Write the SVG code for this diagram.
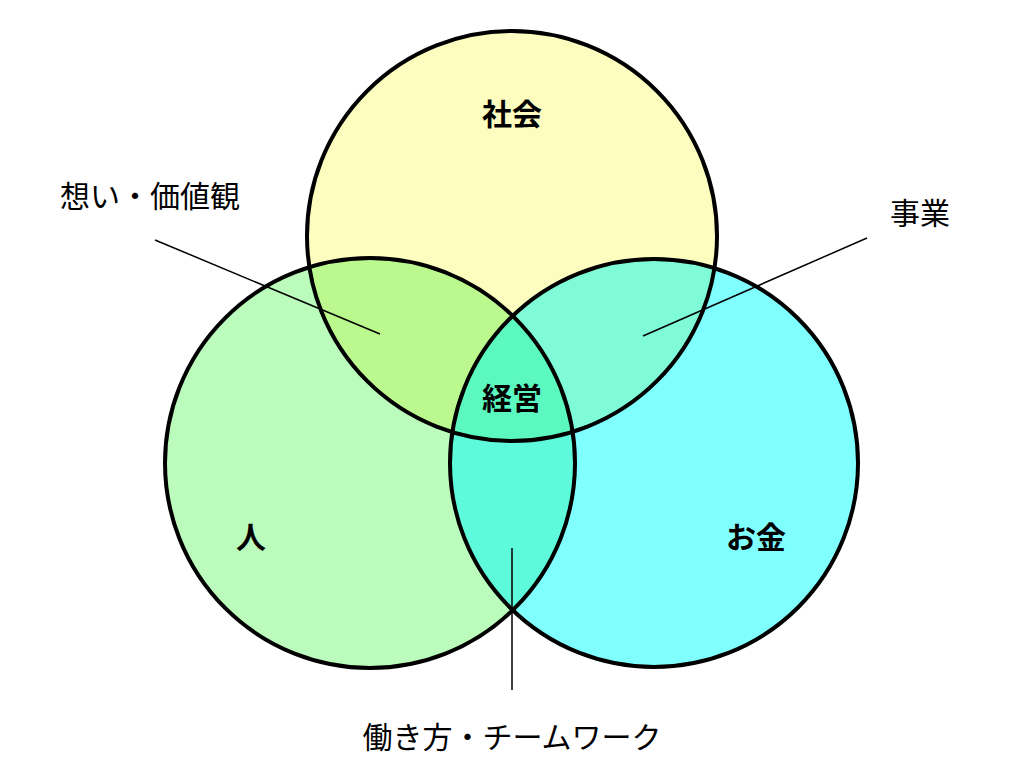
<svg xmlns="http://www.w3.org/2000/svg" width="1024" height="768" viewBox="0 0 1024 768">
<style>
.c{fill:none;stroke:#000;stroke-width:4}
.t{font-family:"Noto Sans CJK JP",sans-serif;font-size:30px;text-anchor:middle;fill:#000}
.b{font-weight:bold}
.l{stroke:#000;stroke-width:1.5}
</style>
<defs>
<clipPath id="cT"><circle cx="512" cy="236" r="205"/></clipPath>
<clipPath id="cL"><circle cx="370" cy="463" r="205"/></clipPath>
<clipPath id="cR"><circle cx="654" cy="463" r="204"/></clipPath>
</defs>
<rect width="1024" height="768" fill="#fff"/>
<g id="fills">
<circle cx="512" cy="236" r="205" fill="#FDFDC0"/>
<circle cx="370" cy="463" r="205" fill="#BBFBBB"/>
<circle cx="654" cy="463" r="204" fill="#80FFFF"/>
<circle cx="370" cy="463" r="205" fill="#BBF88E" clip-path="url(#cT)"/>
<circle cx="654" cy="463" r="204" fill="#80FBD8" clip-path="url(#cT)"/>
<g clip-path="url(#cL)"><circle cx="654" cy="463" r="204" fill="#5DFBDB"/></g>
<g clip-path="url(#cL)"><circle cx="654" cy="463" r="204" fill="#5BF9C0" clip-path="url(#cT)"/></g>
</g>
<g id="circles">
<circle id="shakai" class="c" cx="512" cy="236" r="205"/>
<circle id="hito" class="c" cx="370" cy="463" r="205"/>
<circle id="okane" class="c" cx="654" cy="463" r="204"/>
</g>
<g id="connectors">
<line class="l" x1="155" y1="240" x2="380" y2="334"/>
<line class="l" x1="867" y1="238" x2="643" y2="336"/>
<line class="l" x1="512" y1="548" x2="512" y2="690"/>
</g>
<g id="labels">
<text class="t b" x="512" y="125">社会</text>
<text class="t" x="150" y="207">想い・価値観</text>
<text class="t" x="920" y="224">事業</text>
<text class="t b" x="512" y="409">経営</text>
<text class="t b" x="251" y="548">人</text>
<text class="t b" x="756" y="548">お金</text>
<text class="t" x="512" y="748">働き方・チームワーク</text>
</g>
</svg>
